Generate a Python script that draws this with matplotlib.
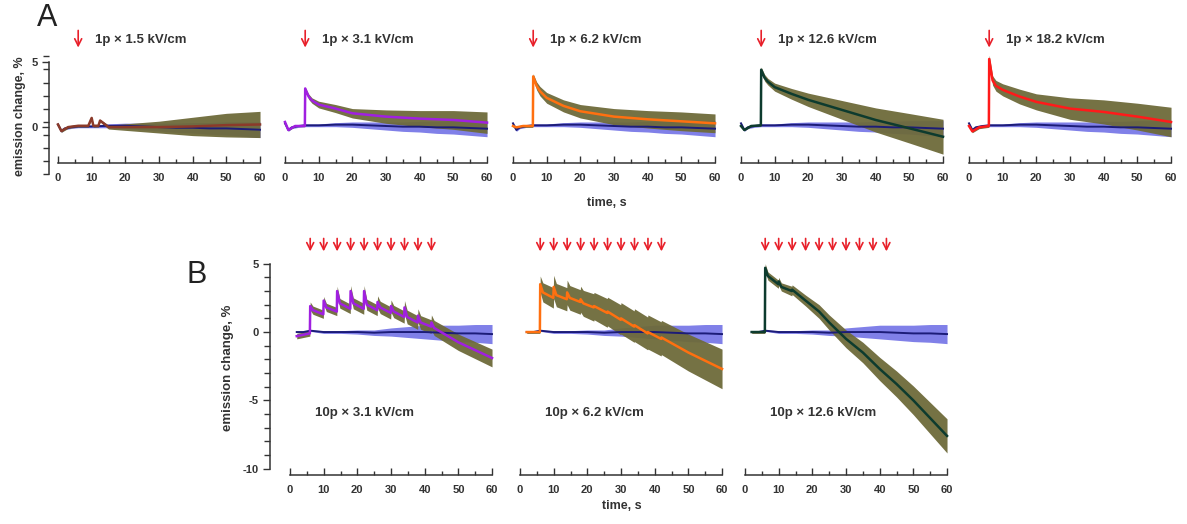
import matplotlib
matplotlib.use("Agg")
import matplotlib.pyplot as plt
import numpy as np

plt.rcParams['font.family'] = ['Liberation Sans', 'DejaVu Sans']
plt.rcParams['font.weight'] = 'bold'
plt.rcParams['axes.unicode_minus'] = False

W, H = 1187, 524

# ---- data (time s, mean %, sd %) ----
ctrl_a_t = [0, 1, 2, 4, 6, 10, 15, 20, 25, 30, 35, 40, 45, 50, 55, 60]
ctrl_a_mean = [0.2, -0.3, -0.1, 0, 0.05, 0.05, 0.1, 0.1, 0.05, 0, -0.05, -0.05, -0.1, -0.1, -0.15, -0.2]
ctrl_a_sd = [0.1, 0.1, 0.1, 0.1, 0.1, 0.1, 0.15, 0.2, 0.25, 0.3, 0.35, 0.4, 0.45, 0.5, 0.55, 0.6]

a1_t = [0, 1, 3, 6, 9, 10, 10.5, 12, 12.5, 15, 20, 30, 40, 50, 60]
a1_mean = [0.2, -0.3, 0, 0.1, 0.1, 0.7, 0.1, 0.1, 0.5, 0, 0, 0, 0.05, 0.15, 0.2]
a1_sd = [0.1, 0.1, 0.1, 0.1, 0.1, 0.1, 0.1, 0.1, 0.1, 0.15, 0.25, 0.45, 0.7, 0.9, 1.0]

a_t = [0, 1, 3, 5.9, 6, 7, 8, 10, 15, 20, 30, 40, 50, 60]
a2_mean = [0.3, -0.3, 0, 0, 2.8, 2.2, 1.9, 1.6, 1.3, 0.95, 0.7, 0.55, 0.45, 0.25]
a2_sd = [0.05, 0.05, 0.05, 0.05, 0.1, 0.2, 0.2, 0.25, 0.3, 0.35, 0.5, 0.6, 0.7, 0.8]
a3_mean = [0, -0.1, 0, 0, 3.7, 3.0, 2.6, 2.1, 1.5, 1.1, 0.7, 0.5, 0.35, 0.2]
a3_sd = [0.1, 0.1, 0.1, 0.1, 0.2, 0.3, 0.35, 0.4, 0.45, 0.5, 0.6, 0.65, 0.7, 0.7]
a4_mean = [0, -0.3, 0, 0.05, 4.2, 3.6, 3.3, 2.9, 2.4, 1.95, 1.2, 0.45, -0.17, -0.8]
a4_sd = [0.05, 0.05, 0.05, 0.05, 0.2, 0.25, 0.25, 0.3, 0.4, 0.5, 0.7, 0.9, 1.1, 1.3]
a5_mean = [0, -0.4, -0.1, 0, 5.0, 3.4, 3.0, 2.7, 2.2, 1.8, 1.3, 1.05, 0.7, 0.3]
a5_sd = [0.1, 0.1, 0.1, 0.1, 0.3, 0.35, 0.4, 0.45, 0.55, 0.6, 0.8, 0.9, 1.0, 1.1]

ctrl_b_t = [2, 4, 6, 10, 15, 20, 25, 30, 35, 40, 45, 50, 55, 60]
ctrl_b_mean = [0, 0, 0.1, 0, 0, 0, -0.05, 0, 0, 0, -0.05, -0.1, -0.1, -0.15]
ctrl_b_sd = [0.05, 0.05, 0.05, 0.1, 0.1, 0.15, 0.2, 0.3, 0.4, 0.5, 0.55, 0.6, 0.65, 0.7]

b1_t = [2, 5.9, 6, 6.8, 9.9, 10, 10.8, 13.9, 14, 14.8, 17.9, 18, 18.8, 21.9, 22, 22.8,
        25.9, 26, 26.8, 29.9, 30, 30.8, 33.9, 34, 34.8, 37.9, 38, 38.8, 41.9, 42, 42.8, 50, 60]
b1_mean = [-0.3, -0.1, 1.9, 1.6, 1.3, 2.3, 1.8, 1.5, 3.0, 2.1, 1.7, 3.0, 2.1, 1.7, 3.0, 2.0,
           1.6, 2.2, 1.8, 1.4, 1.9, 1.5, 1.1, 1.8, 1.1, 0.7, 1.2, 0.7, 0.4, 0.7, 0.3, -0.75, -1.9]
b1_sd = [0.2, 0.2, 0.3, 0.3, 0.3, 0.3, 0.3, 0.3, 0.35, 0.35, 0.35, 0.4, 0.4, 0.4, 0.4, 0.4,
         0.4, 0.45, 0.45, 0.45, 0.45, 0.45, 0.45, 0.5, 0.5, 0.5, 0.5, 0.5, 0.5, 0.55, 0.55, 0.6, 0.65]

b2_t = [2, 5.9, 6, 6.8, 9.9, 10, 10.8, 13.9, 14, 14.8, 17.9, 18, 18.8, 21.9, 22,
        25.9, 26, 29.9, 30, 33.9, 34, 37.9, 38, 41.9, 42, 50, 60]
b2_mean = [0, 0, 3.5, 2.9, 2.5, 3.3, 2.7, 2.4, 2.9, 2.5, 2.2, 2.4, 2.1, 1.8, 1.9,
           1.4, 1.5, 0.9, 1.0, 0.4, 0.5, -0.1, 0.0, -0.5, -0.4, -1.5, -2.7]
b2_sd = [0.1, 0.1, 0.6, 0.7, 0.75, 0.85, 0.85, 0.85, 0.9, 0.9, 0.9, 0.95, 0.95, 1.0, 1.0,
         1.05, 1.05, 1.1, 1.15, 1.15, 1.2, 1.2, 1.25, 1.25, 1.25, 1.35, 1.45]

b3_t = [2, 5.9, 6, 6.8, 9.9, 10, 10.8, 13.9, 14, 18, 22, 25, 30, 35, 40, 45, 50, 55, 60]
b3_mean = [0, 0, 4.7, 4.1, 3.5, 3.7, 3.3, 3.0, 3.1, 2.3, 1.5, 0.7, -0.5, -1.5, -2.7, -3.8, -5.0, -6.3, -7.6]
b3_sd = [0.1, 0.1, 0.3, 0.3, 0.3, 0.3, 0.3, 0.35, 0.35, 0.4, 0.5, 0.55, 0.65, 0.75, 0.85, 0.95, 1.05, 1.15, 1.25]

a_labels = ['1p × 1.5 kV/cm', '1p × 3.1 kV/cm', '1p × 6.2 kV/cm', '1p × 12.6 kV/cm', '1p × 18.2 kV/cm']
b_labels = ['10p × 3.1 kV/cm', '10p × 6.2 kV/cm', '10p × 12.6 kV/cm']
pulses_a = [6]
pulses_b = [6, 10, 14, 18, 22, 26, 30, 34, 38, 42]

olive = '#6e6a3a'
band_blue = '#7272e6'
navy = '#1c1c78'
arrow_red = '#e8202a'
line_cols_a = ['#8b3a2a', '#a020e0', '#ff7010', '#0d3b2e', '#ff1a1a']
line_cols_b = ['#a020e0', '#ff7010', '#0d3b2e']

fig = plt.figure(figsize=(W / 100, H / 100), dpi=100)


def px_axes(left, top, width, height):
    return fig.add_axes([left / W, 1 - (top + height) / H, width / W, height / H])


def style(ax, show_y, ybot, ymaj, ybounds, lab_pad):
    for s in ['top', 'right']:
        ax.spines[s].set_visible(False)
    ax.spines['bottom'].set_position(('data', ybot))
    ax.spines['bottom'].set_bounds(0, 60)
    ax.spines['bottom'].set_color('#333333')
    ax.spines['bottom'].set_linewidth(1.1)
    ax.set_xticks([0, 10, 20, 30, 40, 50, 60])
    ax.set_xticks([5, 15, 25, 35, 45, 55], minor=True)
    ax.tick_params(axis='x', which='both', direction='in', color='#333333', width=1.0,
                   labelsize=8, pad=lab_pad, labelcolor='#333333')
    ax.tick_params(axis='x', which='major', length=5)
    ax.tick_params(axis='x', which='minor', length=3)
    if show_y:
        ax.spines['left'].set_bounds(*ybounds)
        ax.spines['left'].set_color('#333333')
        ax.spines['left'].set_linewidth(1.1)
        ax.set_yticks(ymaj)
        ax.set_yticks(np.arange(ybounds[0], ybounds[1] + 1, 1), minor=True)
        ax.tick_params(axis='y', which='both', direction='out', color='#333333', width=1.0,
                       labelsize=8, pad=3, labelcolor='#333333')
        ax.tick_params(axis='y', which='major', length=5)
        ax.tick_params(axis='y', which='minor', length=4)
    else:
        ax.spines['left'].set_visible(False)
        ax.set_yticks([])
    ax.patch.set_alpha(0)


def draw(ax, ct, cm, cs, t, m, s, col):
    cm, cs, m, s = map(np.array, (cm, cs, m, s))
    ax.fill_between(ct, cm - cs, cm + cs, color=band_blue, lw=0, alpha=0.9)
    ax.fill_between(t, m - s, m + s, color=olive, lw=0, alpha=0.95)
    ax.plot(ct, cm, color=navy, lw=1.4)
    ax.plot(t, m, color=col, lw=1.8)


def arrows(ax, pulses, y0, y1):
    for p in pulses:
        ax.annotate('', xy=(p, y0), xytext=(p, y1),
                    xycoords=ax.get_xaxis_transform(), textcoords=ax.get_xaxis_transform(),
                    arrowprops=dict(arrowstyle='->,head_length=0.5,head_width=0.25',
                                    color=arrow_red, lw=1.2),
                    annotation_clip=False)


# ---- row A ----
a_x0 = [58, 285, 513, 741, 969]
a_means = [a1_mean, a2_mean, a3_mean, a4_mean, a5_mean]
a_sds = [a1_sd, a2_sd, a3_sd, a4_sd, a5_sd]
for i, x0 in enumerate(a_x0):
    ax = px_axes(x0 - 9.1, 56.3, 214.5, 119.3)
    ax.set_xlim(-2.7, 61)
    ax.set_ylim(-3.7, 5.2)
    t = a1_t if i == 0 else a_t
    draw(ax, ctrl_a_t, ctrl_a_mean, ctrl_a_sd, t, a_means[i], a_sds[i], line_cols_a[i])
    style(ax, i == 0, -2.75, [0, 5], (-3.6, 5), 7)
    arrows(ax, pulses_a, 1.05, 1.24)
    ax.text(11, 1.137, a_labels[i], transform=ax.get_xaxis_transform(),
            fontsize=9.5, fontweight='bold', color='#333333', va='center', ha='left')
    if i == 0:
        ax.set_ylabel('emission change, %', fontsize=9, fontweight='bold', color='#333333', labelpad=4)

# ---- row B ----
b_x0 = [290, 520, 745]
b_ts = [b1_t, b2_t, b3_t]
b_means = [b1_mean, b2_mean, b3_mean]
b_sds = [b1_sd, b2_sd, b3_sd]
for i, x0 in enumerate(b_x0):
    ax = px_axes(x0 - 20.2, 259.6, 225.6, 217.3)
    ax.set_xlim(-6, 61)
    ax.set_ylim(-10.6, 5.3)
    draw(ax, ctrl_b_t, ctrl_b_mean, ctrl_b_sd, b_ts[i], b_means[i], b_sds[i], line_cols_b[i])
    style(ax, i == 0, -10.45, [-10, -5, 0, 5], (-10, 5), 7)
    arrows(ax, pulses_b, 1.025, 1.11)
    ax.text(7.5, -5.9, b_labels[i], fontsize=9.5, fontweight='bold', color='#333333',
            va='center', ha='left')
    if i == 0:
        ax.set_ylabel('emission change, %', fontsize=9.5, fontweight='bold', color='#333333', labelpad=6)

fig.text(47 / W, 1 - 18 / H, 'A', fontsize=22, fontweight='normal', ha='center', va='center', color='#222222')
fig.text(197 / W, 1 - 275 / H, 'B', fontsize=22, fontweight='normal', ha='center', va='center', color='#222222')
fig.text(607 / W, 1 - 203 / H, 'time, s', fontsize=9, fontweight='bold', ha='center', va='center', color='#333333')
fig.text(622 / W, 1 - 506 / H, 'time, s', fontsize=9, fontweight='bold', ha='center', va='center', color='#333333')

fig.savefig('out.png', dpi=100)
